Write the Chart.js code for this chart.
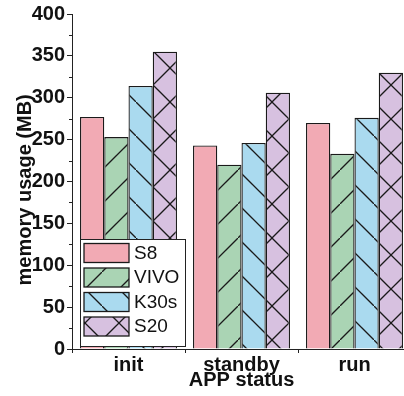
<!DOCTYPE html>
<html>
<head>
<meta charset="utf-8">
<script src="https://cdn.jsdelivr.net/npm/chart.js@4.4.1/dist/chart.umd.min.js"></script>
<style>
  html, body { margin: 0; padding: 0; background: #fff; overflow: hidden; }
  #wrap { width: 404px; height: 396px; overflow: hidden; }
</style>
</head>
<body>
<div id="wrap"><canvas id="c" width="420" height="396"></canvas></div>
<script>
// Data
const categories = ["init", "standby", "run"];
const seriesNames = ["S8", "VIVO", "K30s", "S20"];
const s8 = [277, 243, 270];
const vivo = [253, 220, 233];
const k30s = [314, 246, 276];
const s20 = [355, 306, 330];
const yTicks = [0, 50, 100, 150, 200, 250, 300, 350, 400];

const fillColors = ["#F2AAB4", "#AAD4B4", "#AADAEF", "#D7C1E0"];
const hatchTypes = ["none", "fwd", "back", "cross"];
const FONT = "'Liberation Sans', Arial, sans-serif";

// hatch pattern, 34px tile
function makePattern(color, type) {
  const P = 34;
  const cv = document.createElement("canvas");
  cv.width = P; cv.height = P;
  const g = cv.getContext("2d");
  g.fillStyle = color;
  g.fillRect(0, 0, P, P);
  g.strokeStyle = "#1a1a1a";
  g.lineWidth = 1.3;
  const fwd = () => {
    g.beginPath();
    g.moveTo(-2, P + 2); g.lineTo(P + 2, -2);
    g.stroke();
  };
  const back = () => {
    g.beginPath();
    g.moveTo(-2, -2); g.lineTo(P + 2, P + 2);
    g.stroke();
  };
  if (type === "fwd") fwd();
  if (type === "back") back();
  if (type === "cross") { fwd(); back(); }
  return g.createPattern(cv, "repeat");
}

const patterns = fillColors.map((c, i) => makePattern(c, hatchTypes[i]));
const values = [s8, vivo, k30s, s20];

// legend + minor ticks drawn on top of the bars
const extras = {
  id: "extras",
  afterDatasetsDraw(chart) {
    const ctx = chart.ctx;
    const y = chart.scales.y;
    const x0 = chart.chartArea.left;
    ctx.save();
    // minor ticks
    ctx.strokeStyle = "#222";
    ctx.lineWidth = 1;
    for (let v = 25; v < 400; v += 50) {
      const py = Math.round(y.getPixelForValue(v)) + 0.5;
      ctx.beginPath();
      ctx.moveTo(x0 - 3, py); ctx.lineTo(x0, py);
      ctx.stroke();
    }
    // legend box
    const lx = 80.5, ly = 239.5, lw = 105, lh = 107;
    ctx.fillStyle = "#fff";
    ctx.fillRect(lx, ly, lw, lh);
    ctx.strokeStyle = "#222";
    ctx.lineWidth = 1;
    ctx.strokeRect(lx, ly, lw, lh);
    ctx.font = "19px " + FONT;
    ctx.textBaseline = "middle";
    ctx.textAlign = "left";
    seriesNames.forEach((name, i) => {
      const by = 243.5 + i * 24.5;
      ctx.fillStyle = patterns[i];
      ctx.fillRect(84, by, 45, 19);
      ctx.lineWidth = 1.3;
      ctx.strokeStyle = "#1a1a1a";
      ctx.strokeRect(84, by, 45, 19);
      ctx.fillStyle = "#111";
      ctx.fillText(name, 134, by + 10);
    });
    ctx.restore();
  }
};

new Chart(document.getElementById("c"), {
  type: "bar",
  data: {
    labels: categories,
    datasets: seriesNames.map((name, i) => ({
      label: name,
      data: values[i],
      backgroundColor: patterns[i],
      borderColor: "#1a1a1a",
      borderWidth: 1.3,
      categoryPercentage: 0.858,
      barPercentage: 1
    }))
  },
  options: {
    responsive: false,
    animation: false,
    layout: { padding: { top: 13, right: 9, bottom: 0, left: 0 } },
    plugins: { legend: { display: false }, tooltip: { enabled: false } },
    scales: {
      x: {
        afterFit(s) { s.height = 47; },
        border: { color: "#222", width: 1 },
        grid: { offset: true, drawOnChartArea: false, tickLength: 4, tickColor: "#222" },
        ticks: { color: "#111", padding: 0, font: { family: FONT, size: 20, weight: "bold" } },
        title: {
          display: true, text: "APP status", color: "#111",
          padding: { top: 0, bottom: 4 },
          font: { family: FONT, size: 20, weight: "bold" }
        }
      },
      y: {
        min: 0, max: 400,
        afterFit(s) { s.width = 72; },
        afterBuildTicks(s) { s.ticks = yTicks.map(v => ({ value: v })); },
        border: { color: "#222", width: 1 },
        grid: { drawOnChartArea: false, tickLength: 5, tickColor: "#222" },
        ticks: { color: "#111", padding: 2, font: { family: FONT, size: 20, weight: "bold" } },
        title: {
          display: true, text: "memory usage (MB)   ", color: "#111",
          padding: { top: 13, bottom: 0 },
          font: { family: FONT, size: 20, weight: "bold" }
        }
      }
    }
  },
  plugins: [extras]
});
</script>
</body>
</html>
